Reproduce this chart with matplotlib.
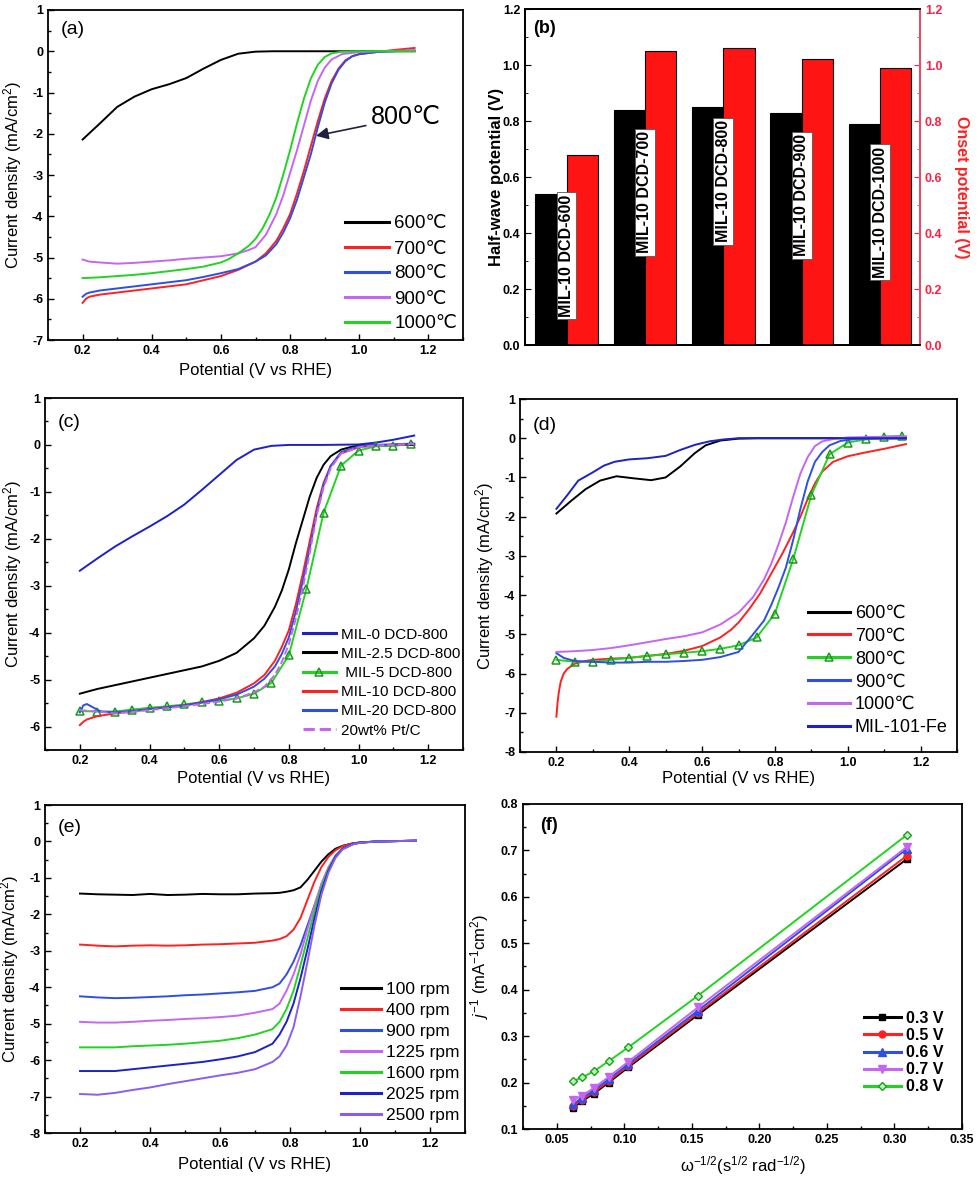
import numpy as np
import matplotlib
matplotlib.use("Agg")
import matplotlib.pyplot as plt
from matplotlib.ticker import MultipleLocator

plt.rcParams['font.family'] = ['Liberation Sans', 'DejaVu Sans']
plt.rcParams['axes.unicode_minus'] = False
plt.rcParams['mathtext.fontset'] = 'custom'
plt.rcParams['mathtext.rm'] = 'Liberation Sans'
plt.rcParams['mathtext.it'] = 'Liberation Sans:italic'

# ---------------- (a) temperature series ----------------
a_x600 = [0.2, 0.25, 0.3, 0.35, 0.4, 0.45, 0.5, 0.55, 0.6, 0.65, 0.7, 0.75, 0.8, 1.0, 1.16]
a_y600 = [-2.14, -1.75, -1.35, -1.1, -0.92, -0.8, -0.65, -0.42, -0.21, -0.06, -0.01, 0, 0, 0, 0]
a_x78 = [0.2, 0.21, 0.22, 0.25, 0.3, 0.35, 0.4, 0.45, 0.5, 0.55, 0.6, 0.65, 0.7, 0.73, 0.76, 0.78,
         0.8, 0.82, 0.84, 0.86, 0.88, 0.9, 0.92, 0.94, 0.96, 0.98, 1.0, 1.05, 1.1, 1.16]
a_y700 = [-6.1, -6.0, -5.95, -5.9, -5.85, -5.8, -5.75, -5.7, -5.65, -5.55, -5.45, -5.3, -5.1, -4.9, -4.6, -4.3,
          -3.95, -3.45, -2.9, -2.3, -1.7, -1.15, -0.72, -0.42, -0.22, -0.12, -0.07, -0.02, 0.03, 0.08]
a_y800 = [-5.95, -5.88, -5.85, -5.8, -5.75, -5.7, -5.65, -5.6, -5.55, -5.47, -5.38, -5.28, -5.1, -4.95, -4.68, -4.4,
          -4.05, -3.6, -3.05, -2.5, -1.85, -1.25, -0.78, -0.45, -0.24, -0.12, -0.07, -0.02, 0.0, 0.02]
a_x900 = [0.2, 0.22, 0.25, 0.3, 0.35, 0.4, 0.45, 0.5, 0.55, 0.6, 0.65, 0.68, 0.7, 0.73, 0.76, 0.78,
          0.8, 0.82, 0.84, 0.86, 0.88, 0.9, 0.92, 0.95, 1.0, 1.05, 1.16]
a_y900 = [-5.05, -5.1, -5.12, -5.15, -5.13, -5.1, -5.07, -5.03, -5.0, -4.97, -4.9, -4.82, -4.75, -4.45, -3.95, -3.5,
          -2.95, -2.4, -1.8, -1.2, -0.72, -0.4, -0.2, -0.07, -0.02, 0, 0.02]
a_x1000 = [0.2, 0.25, 0.3, 0.35, 0.4, 0.45, 0.5, 0.55, 0.6, 0.62, 0.65, 0.68, 0.7, 0.72, 0.74, 0.76, 0.78,
           0.8, 0.82, 0.84, 0.86, 0.88, 0.9, 0.92, 0.95, 1.0, 1.16]
a_y1000 = [-5.5, -5.48, -5.45, -5.42, -5.38, -5.33, -5.28, -5.22, -5.12, -5.05, -4.9, -4.72, -4.55, -4.3, -3.97,
           -3.55, -3.0, -2.4, -1.75, -1.15, -0.66, -0.33, -0.14, -0.05, -0.01, 0, 0]

# ---------------- (b) bars ----------------
b_names = ["MIL-10 DCD-600", "MIL-10 DCD-700", "MIL-10 DCD-800", "MIL-10 DCD-900", "MIL-10 DCD-1000"]
b_halfwave = [0.54, 0.84, 0.85, 0.83, 0.79]
b_onset = [0.68, 1.05, 1.06, 1.02, 0.99]
b_label_y = [0.32, 0.545, 0.585, 0.535, 0.475]

# ---------------- (c) MIL content ----------------
c_x0 = [0.2, 0.25, 0.3, 0.35, 0.4, 0.45, 0.5, 0.55, 0.6, 0.65, 0.7, 0.75, 0.8, 0.9, 1.0, 1.05, 1.1, 1.16]
c_y0 = [-2.68, -2.42, -2.17, -1.95, -1.74, -1.52, -1.27, -0.96, -0.64, -0.32, -0.1, -0.02, 0, 0, 0.01, 0.05, 0.11, 0.2]
c_x25 = [0.2, 0.25, 0.3, 0.35, 0.4, 0.45, 0.5, 0.55, 0.6, 0.65, 0.7, 0.73, 0.76, 0.78, 0.8, 0.82, 0.84,
         0.86, 0.88, 0.9, 0.92, 0.95, 0.98, 1.0, 1.05, 1.16]
c_y25 = [-5.3, -5.2, -5.12, -5.04, -4.96, -4.88, -4.8, -4.72, -4.6, -4.43, -4.12, -3.85, -3.45, -3.1, -2.65, -2.1,
         -1.6, -1.1, -0.7, -0.42, -0.24, -0.1, -0.04, -0.02, 0, 0]
c_x5 = [0.2, 0.25, 0.3, 0.35, 0.4, 0.45, 0.5, 0.55, 0.6, 0.65, 0.7, 0.75, 0.8, 0.85, 0.9, 0.95, 1.0, 1.05, 1.1, 1.15]
c_y5 = [-5.67, -5.68, -5.68, -5.64, -5.6, -5.57, -5.53, -5.48, -5.45, -5.4, -5.3, -5.07, -4.48, -3.08, -1.44,
        -0.44, -0.12, -0.03, -0.02, 0.02]
c_x10 = [0.2, 0.21, 0.22, 0.25, 0.3, 0.35, 0.4, 0.45, 0.5, 0.55, 0.6, 0.65, 0.7, 0.73, 0.76, 0.78, 0.8, 0.82,
         0.84, 0.86, 0.88, 0.9, 0.92, 0.95, 1.0, 1.05, 1.16]
c_y10 = [-5.97, -5.9, -5.85, -5.78, -5.72, -5.68, -5.63, -5.59, -5.55, -5.48, -5.4, -5.28, -5.08, -4.9, -4.6, -4.3,
         -3.95, -3.4, -2.75, -2.05, -1.35, -0.8, -0.45, -0.18, -0.05, -0.01, 0.02]
c_x20 = [0.2, 0.21, 0.22, 0.24, 0.26, 0.3, 0.35, 0.4, 0.45, 0.5, 0.55, 0.6, 0.65, 0.7, 0.73, 0.76, 0.78, 0.8,
         0.82, 0.84, 0.86, 0.88, 0.9, 0.92, 0.95, 1.0, 1.05, 1.16]
c_y20 = [-5.7, -5.55, -5.52, -5.6, -5.68, -5.7, -5.67, -5.63, -5.59, -5.55, -5.49, -5.42, -5.32, -5.15, -4.98,
         -4.72, -4.45, -4.1, -3.55, -2.9, -2.2, -1.45, -0.85, -0.45, -0.15, -0.03, 0.0, 0.03]
c_xpt = [0.2, 0.25, 0.3, 0.35, 0.4, 0.45, 0.5, 0.55, 0.6, 0.65, 0.7, 0.73, 0.76, 0.78, 0.8, 0.82, 0.84, 0.86,
         0.88, 0.9, 0.92, 0.95, 1.0, 1.05, 1.16]
c_ypt = [-5.65, -5.68, -5.72, -5.69, -5.65, -5.61, -5.57, -5.52, -5.47, -5.4, -5.27, -5.15, -4.9, -4.62, -4.25,
         -3.7, -3.05, -2.3, -1.5, -0.9, -0.5, -0.18, -0.05, -0.01, 0.02]

# ---------------- (d) temperature series + MIL-101-Fe ----------------
d_x600 = [0.2, 0.24, 0.28, 0.32, 0.365, 0.41, 0.46, 0.5, 0.54, 0.58, 0.61, 0.65, 0.7, 0.75, 1.16]
d_y600 = [-1.92, -1.6, -1.3, -1.08, -0.97, -1.02, -1.07, -1.0, -0.72, -0.38, -0.18, -0.06, -0.01, 0, 0]
d_x700 = [0.2, 0.203, 0.207, 0.212, 0.22, 0.23, 0.25, 0.28, 0.3, 0.35, 0.4, 0.45, 0.5, 0.55, 0.6, 0.65, 0.68,
          0.7, 0.73, 0.76, 0.79, 0.82, 0.85, 0.87, 0.89, 0.91, 0.93, 0.96, 1.0, 1.05, 1.1, 1.16]
d_y700 = [-7.1, -6.75, -6.45, -6.2, -6.0, -5.88, -5.75, -5.68, -5.65, -5.62, -5.6, -5.55, -5.5, -5.42, -5.3,
          -5.08, -4.88, -4.7, -4.35, -3.95, -3.45, -2.95, -2.4, -2.0, -1.55, -1.15, -0.85, -0.6, -0.46, -0.36,
          -0.27, -0.15]
d_x800 = [0.2, 0.25, 0.3, 0.35, 0.4, 0.45, 0.5, 0.55, 0.6, 0.65, 0.7, 0.75, 0.8, 0.85, 0.9, 0.95, 1.0, 1.05, 1.1, 1.15]
d_y800 = [-5.65, -5.7, -5.7, -5.65, -5.6, -5.55, -5.51, -5.47, -5.43, -5.37, -5.28, -5.08, -4.47, -3.09, -1.45,
          -0.41, -0.11, -0.03, 0.04, 0.06]
d_x900 = [0.2, 0.22, 0.25, 0.3, 0.35, 0.4, 0.45, 0.5, 0.55, 0.6, 0.65, 0.7, 0.74, 0.77, 0.79, 0.81, 0.83, 0.85,
          0.87, 0.89, 0.91, 0.93, 0.95, 0.98, 1.02, 1.16]
d_y900 = [-5.48, -5.6, -5.68, -5.7, -5.72, -5.72, -5.7, -5.7, -5.68, -5.65, -5.58, -5.45, -5.0, -4.65, -4.25,
          -3.8, -3.3, -2.6, -1.8, -1.1, -0.6, -0.35, -0.18, -0.07, -0.02, 0.0]
d_x1000 = [0.2, 0.25, 0.3, 0.35, 0.4, 0.45, 0.5, 0.55, 0.6, 0.65, 0.7, 0.74, 0.77, 0.79, 0.81, 0.83, 0.85, 0.87,
           0.89, 0.91, 0.93, 0.96, 1.0, 1.16]
d_y1000 = [-5.45, -5.43, -5.4, -5.35, -5.28, -5.2, -5.12, -5.05, -4.95, -4.75, -4.45, -4.05, -3.6, -3.2, -2.7,
           -2.15, -1.5, -0.9, -0.48, -0.2, -0.08, -0.02, 0.02, 0.05]
d_xfe = [0.2, 0.23, 0.26, 0.3, 0.33, 0.36, 0.4, 0.45, 0.5, 0.54, 0.58, 0.62, 0.66, 0.7, 1.16]
d_yfe = [-1.8, -1.45, -1.08, -0.87, -0.7, -0.6, -0.54, -0.51, -0.45, -0.3, -0.17, -0.08, -0.03, 0, 0]

# ---------------- (e) rotation rates ----------------
e_x = [0.2, 0.25, 0.3, 0.35, 0.4, 0.45, 0.5, 0.55, 0.6, 0.65, 0.7, 0.75, 0.77, 0.79, 0.81, 0.83, 0.85, 0.87,
       0.89, 0.91, 0.93, 0.95, 0.98, 1.0, 1.05, 1.16]
e_y100 = [-1.43, -1.45, -1.46, -1.47, -1.44, -1.47, -1.46, -1.44, -1.45, -1.45, -1.43, -1.42, -1.41, -1.38,
          -1.34, -1.26, -1.05, -0.8, -0.55, -0.35, -0.2, -0.12, -0.05, -0.03, 0, 0.02]
e_y400 = [-2.83, -2.86, -2.88, -2.86, -2.85, -2.86, -2.85, -2.83, -2.82, -2.8, -2.78, -2.72, -2.68, -2.6, -2.42,
          -2.1, -1.6, -1.1, -0.7, -0.42, -0.24, -0.13, -0.05, -0.03, 0, 0.02]
e_y900 = [-4.25, -4.28, -4.3, -4.29, -4.27, -4.25, -4.22, -4.2, -4.17, -4.14, -4.1, -4.0, -3.9, -3.65, -3.3,
          -2.85, -2.3, -1.75, -1.2, -0.75, -0.4, -0.2, -0.07, -0.03, 0, 0.02]
e_y1225 = [-4.95, -4.97, -4.97, -4.95, -4.92, -4.9, -4.87, -4.85, -4.82, -4.78, -4.7, -4.6, -4.45, -4.1, -3.65,
           -3.1, -2.4, -1.75, -1.15, -0.7, -0.38, -0.2, -0.07, -0.03, 0, 0.02]
e_y1600 = [-5.65, -5.65, -5.65, -5.62, -5.6, -5.58, -5.55, -5.51, -5.47, -5.4, -5.3, -5.15, -4.95, -4.6, -4.1,
           -3.4, -2.65, -1.9, -1.25, -0.75, -0.4, -0.2, -0.07, -0.03, 0, 0.02]
e_y2025 = [-6.3, -6.3, -6.3, -6.25, -6.2, -6.15, -6.1, -6.05, -5.98, -5.9, -5.78, -5.55, -5.3, -4.95, -4.45,
           -3.75, -2.95, -2.1, -1.35, -0.8, -0.42, -0.2, -0.07, -0.03, 0, 0.02]
e_y2500 = [-6.93, -6.95, -6.9, -6.82, -6.75, -6.66, -6.58, -6.5, -6.42, -6.35, -6.25, -6.05, -5.9, -5.6, -5.1,
           -4.25, -3.3, -2.3, -1.45, -0.85, -0.45, -0.22, -0.08, -0.04, 0, 0.02]

# ---------------- (f) K-L plots ----------------
f_x = [0.0618, 0.0687, 0.0773, 0.0884, 0.103, 0.1545, 0.309]
f_03 = [0.145, 0.160, 0.176, 0.200, 0.233, 0.346, 0.681]
f_05 = [0.149, 0.163, 0.179, 0.203, 0.236, 0.350, 0.688]
f_06 = [0.153, 0.167, 0.183, 0.207, 0.240, 0.355, 0.703]
f_07 = [0.162, 0.172, 0.188, 0.212, 0.245, 0.362, 0.707]
f_08 = [0.203, 0.211, 0.224, 0.246, 0.276, 0.387, 0.733]

BLACK = '#000000'
RED = '#ff2020'
BLUE = '#2f4fe0'
DBLUE = '#1a22c8'
PURPLE = '#c466f2'
GREEN = '#22d322'
VIOLET = '#8a5cf0'

W, H = 980, 1178
fig = plt.figure(figsize=(W / 100, H / 100), dpi=100)


def add_ax(l, t, r, b):
    return fig.add_axes([l / W, 1 - b / H, (r - l) / W, (b - t) / H])


def style(ax, xmaj, xmin, ymaj, ymin):
    ax.xaxis.set_major_locator(MultipleLocator(xmaj))
    ax.xaxis.set_minor_locator(MultipleLocator(xmin))
    ax.yaxis.set_major_locator(MultipleLocator(ymaj))
    ax.yaxis.set_minor_locator(MultipleLocator(ymin))
    ax.tick_params(which='both', direction='in', top=False, right=False, labelsize=9)
    ax.tick_params(which='major', length=4.5, width=1)
    ax.tick_params(which='minor', length=2.5, width=1)
    for lab in ax.get_xticklabels() + ax.get_yticklabels():
        lab.set_fontweight('bold')
    for s in ax.spines.values():
        s.set_linewidth(1.3)


def legend_at(ax, left, top, fs, spacing, hl=2.3, **kw):
    leg = ax.legend(loc='upper left', bbox_to_anchor=(left / W, 1 - top / H), bbox_transform=fig.transFigure,
                    frameon=False, fontsize=fs, borderpad=0, labelspacing=spacing, handlelength=hl,
                    handletextpad=0.3, **kw)
    for ln in leg.get_lines():
        ln.set_linewidth(2.2)
    return leg


CUR = 'Current density (mA/cm$^2$)'
POT = 'Potential (V vs RHE)'
LW = 1.4

# ---- (a)
ax = add_ax(48, 10, 463, 340)
ax.plot(a_x600, a_y600, color=BLACK, lw=LW, label='600℃')
ax.plot(a_x78, a_y700, color=RED, lw=LW, label='700℃')
ax.plot(a_x78, a_y800, color=BLUE, lw=LW, label='800℃')
ax.plot(a_x900, a_y900, color=PURPLE, lw=LW, label='900℃')
ax.plot(a_x1000, a_y1000, color=GREEN, lw=LW, label='1000℃')
ax.set_xlim(0.1, 1.3)
ax.set_ylim(-7, 1)
style(ax, 0.2, 0.1, 1, 0.5)
ax.set_xlabel(POT, fontsize=12)
ax.set_ylabel(CUR, fontsize=12)
ax.xaxis.set_label_coords(0.5, -0.069)
ax.yaxis.set_label_coords(-0.058, 0.5)
ax.text(0.03, 0.94, '(a)', transform=ax.transAxes, fontsize=14, va='center')
ax.annotate('800℃', xy=(0.875, -2.05), xytext=(1.035, -1.6), fontsize=18, va='center', ha='left',
            arrowprops=dict(arrowstyle='-|>', color='#202040', lw=1.2, shrinkA=2, shrinkB=0))
legend_at(ax, 336, 206, 13.5, 0.42)

# ---- (b)
ax = add_ax(525, 9, 920, 345)
ax2 = ax.twinx()
pos = np.arange(1, len(b_names) + 1)
ax.bar(pos - 0.2, b_halfwave, width=0.4, color=BLACK, edgecolor=BLACK, lw=0.8)
ax2.bar(pos + 0.2, b_onset, width=0.4, color='#ff1414', edgecolor=BLACK, lw=0.8)
for p, name, yy in zip(pos, b_names, b_label_y):
    ax2.text(p, yy, name, rotation=90, ha='center', va='center', fontsize=11.5, fontweight='bold',
             bbox=dict(boxstyle='square,pad=0.15', fc='white', ec='#555555', lw=0.6))
ax.set_xlim(0.47, 5.51)
for a in (ax, ax2):
    a.set_ylim(0, 1.2)
    a.yaxis.set_major_locator(MultipleLocator(0.2))
    a.yaxis.set_minor_locator(MultipleLocator(0.1))
ax.set_xticks([])
ax.tick_params(which='both', direction='in', labelsize=9)
ax.tick_params(which='major', length=4.5)
ax.tick_params(which='minor', length=2.5)
ax2.tick_params(which='both', direction='in', labelsize=9, colors='#ff2040')
ax2.tick_params(which='major', length=4.5)
ax2.tick_params(which='minor', length=2.5)
for lab in ax.get_yticklabels() + ax2.get_yticklabels():
    lab.set_fontweight('bold')
for s in ax.spines.values():
    s.set_linewidth(1.3)
for s in ax2.spines.values():
    s.set_linewidth(1.3)
ax2.spines['right'].set_color('#ff5070')
ax.set_ylabel('Half-wave potential (V)', fontsize=12, fontweight='bold')
ax.yaxis.set_label_coords(-0.054, 0.5)
ax2.set_ylabel('Onset potential (V)', fontsize=11.5, fontweight='bold', color='#ff2020', rotation=270,
               va='center')
ax2.yaxis.set_label_coords(1.106, 0.47)
ax.text(0.02, 0.943, '(b)', transform=ax.transAxes, fontsize=13, va='center', fontweight='bold')

# ---- (c)
ax = add_ax(45, 398, 463, 750)
ax.plot(c_x0, c_y0, color=DBLUE, lw=LW, label='MIL-0 DCD-800')
ax.plot(c_x25, c_y25, color=BLACK, lw=LW, label='MIL-2.5 DCD-800')
ax.plot(c_x5, c_y5, color=GREEN, lw=LW, marker='^', ms=6, mfc='none', mec='#1a9a1a', mew=1.1,
        label=' MIL-5 DCD-800')
ax.plot(c_x10, c_y10, color=RED, lw=LW, label='MIL-10 DCD-800')
ax.plot(c_x20, c_y20, color=BLUE, lw=LW, label='MIL-20 DCD-800')
ax.plot(c_xpt, c_ypt, color=PURPLE, lw=LW, ls='--', label='20wt% Pt/C')
ax.set_xlim(0.1, 1.3)
ax.set_ylim(-6.5, 1)
style(ax, 0.2, 0.1, 1, 0.5)
ax.set_xlabel(POT, fontsize=12)
ax.set_ylabel(CUR, fontsize=12)
ax.xaxis.set_label_coords(0.5, -0.061)
ax.yaxis.set_label_coords(-0.051, 0.5)
ax.text(0.03, 0.93, '(c)', transform=ax.transAxes, fontsize=14, va='center')
legend_at(ax, 295, 620, 11, 0.34, hl=2.2)

# ---- (d)
ax = add_ax(520, 399, 957, 752)
ax.plot(d_x600, d_y600, color=BLACK, lw=LW, label='600℃')
ax.plot(d_x700, d_y700, color=RED, lw=LW, label='700℃')
ax.plot(d_x800, d_y800, color=GREEN, lw=LW, marker='^', ms=6, mfc='none', mec='#1a9a1a', mew=1.1,
        label='800℃')
ax.plot(d_x900, d_y900, color=BLUE, lw=LW, label='900℃')
ax.plot(d_x1000, d_y1000, color=PURPLE, lw=LW, label='1000℃')
ax.plot(d_xfe, d_yfe, color=DBLUE, lw=LW, label='MIL-101-Fe')
ax.set_xlim(0.1, 1.3)
ax.set_ylim(-8, 1)
style(ax, 0.2, 0.1, 1, 0.5)
ax.set_xlabel(POT, fontsize=12)
ax.set_ylabel(CUR, fontsize=12)
ax.xaxis.set_label_coords(0.5, -0.055)
ax.yaxis.set_label_coords(-0.054, 0.5)
ax.text(0.03, 0.925, '(d)', transform=ax.transAxes, fontsize=14, va='center')
legend_at(ax, 799, 596, 13, 0.32)

# ---- (e)
ax = add_ax(45, 805, 465, 1133)
ax.plot(e_x, e_y100, color=BLACK, lw=LW, label='100 rpm')
ax.plot(e_x, e_y400, color=RED, lw=LW, label='400 rpm')
ax.plot(e_x, e_y900, color=BLUE, lw=LW, label='900 rpm')
ax.plot(e_x, e_y1225, color=PURPLE, lw=LW, label='1225 rpm')
ax.plot(e_x, e_y1600, color=GREEN, lw=LW, label='1600 rpm')
ax.plot(e_x, e_y2025, color=DBLUE, lw=LW, label='2025 rpm')
ax.plot(e_x, e_y2500, color=VIOLET, lw=LW, label='2500 rpm')
ax.set_xlim(0.1, 1.3)
ax.set_ylim(-8, 1)
style(ax, 0.2, 0.1, 1, 0.5)
ax.set_xlabel(POT, fontsize=12)
ax.set_ylabel(CUR, fontsize=12)
ax.xaxis.set_label_coords(0.5, -0.072)
ax.yaxis.set_label_coords(-0.056, 0.5)
ax.text(0.03, 0.93, '(e)', transform=ax.transAxes, fontsize=14, va='center')
legend_at(ax, 332, 973, 12.5, 0.34)

# ---- (f)
ax = add_ax(523, 804, 962, 1129)
ax.plot(f_x, f_03, color=BLACK, lw=LW, marker='s', ms=5, label='0.3 V')
ax.plot(f_x, f_05, color=RED, lw=LW, marker='o', ms=5, label='0.5 V')
ax.plot(f_x, f_06, color=BLUE, lw=LW, marker='^', ms=5.5, label='0.6 V')
ax.plot(f_x, f_07, color=PURPLE, lw=LW, marker='v', ms=5.5, label='0.7 V')
ax.plot(f_x, f_08, color=GREEN, lw=LW, marker='D', ms=4.5, mfc='#b8f0b8', mec='#1aa01a', label='0.8 V')
ax.set_xlim(0.025, 0.35)
ax.set_ylim(0.1, 0.8)
style(ax, 0.05, 0.025, 0.1, 0.05)
ax.set_xlabel('ω$^{-1/2}$(s$^{1/2}$ rad$^{-1/2}$)', fontsize=12)
ax.set_ylabel('$j^{-1}$ (mA$^{-1}$cm$^{2}$)', fontsize=12)
ax.xaxis.set_label_coords(0.5, -0.078)
ax.yaxis.set_label_coords(-0.072, 0.5)
ax.text(0.04, 0.935, '(f)', transform=ax.transAxes, fontsize=13, va='center', fontweight='bold')
leg = legend_at(ax, 856, 1003, 11.5, 0.13)
for t in leg.get_texts():
    t.set_fontweight('bold')

fig.savefig('out.png', dpi=100)
